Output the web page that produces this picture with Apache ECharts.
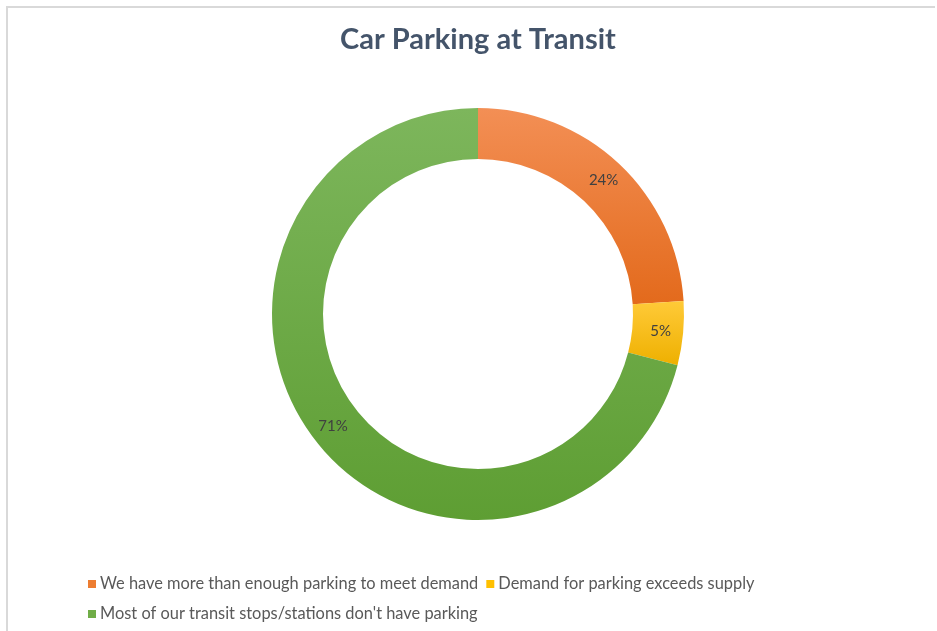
<!DOCTYPE html>
<html>
<head>
<meta charset="utf-8">
<script src="https://cdn.jsdelivr.net/npm/echarts@6/dist/echarts.min.js"></script>
<style>
  html, body { margin: 0; padding: 0; background: #fff; }
  #frame { position: absolute; left: 6px; top: 6px; width: 929px; height: 640px; border-left: 2px solid #d9d9d9; border-top: 2px solid #d9d9d9; box-sizing: border-box; }
  #chart { position: absolute; left: 0; top: 0; width: 937px; height: 631px; }
</style>
</head>
<body>
<div id="frame"></div>
<div id="chart"></div>
<script>
const categories = [
  "We have more than enough parking to meet demand",
  "Demand for parking exceeds supply",
  "Most of our transit stops/stations don't have parking",
];
const shares = [24, 5, 71];
// light top -> darker bottom, like the office gradient fill
const topColors = ["#f38f55", "#ffca38", "#7db65c"];
const bottomColors = ["#e36a1c", "#eeb000", "#5e9e33"];
const legendColors = ["#ed7d31", "#ffc000", "#70ad47"];

const chart = echarts.init(document.getElementById("chart"));

const data = categories.map((name, i) => ({
  name,
  value: shares[i],
  itemStyle: {
    color: new echarts.graphic.LinearGradient(0, 0, 0, 1, [
      { offset: 0, color: topColors[i] },
      { offset: 1, color: bottomColors[i] },
    ]),
  },
}));

chart.setOption({
  animation: false,
  title: {
    text: "Car Parking at Transit",
    left: 335,
    top: 20,
    textStyle: { fontFamily: "Lato", fontSize: 29, fontWeight: "bold", color: "#44546a" },
  },
  legend: {
    left: 83,
    top: 568,
    width: 770,
    itemWidth: 8,
    itemHeight: 8,
    itemGap: 8,
    icon: "rect",
    data: categories.map((name, i) => ({ name, itemStyle: { color: legendColors[i] } })),
    textStyle: { fontFamily: "Lato", fontSize: 16.4, color: "#595959", lineHeight: 22, padding: [0, 0, 0, -1] },
  },
  series: [
    {
      type: "pie",
      center: [478, 314],
      radius: [155, 206],
      startAngle: 90,
      clockwise: true,
      label: {
        show: true,
        position: "inside",
        formatter: (p) => p.value + "%",
        fontFamily: "Lato",
        fontSize: 15,
        color: "#404040",
      },
      labelLine: { show: false },
      itemStyle: { borderColor: "#fff", borderWidth: 0 },
      emphasis: { disabled: true },
      data,
    },
  ],
});
</script>
</body>
</html>
